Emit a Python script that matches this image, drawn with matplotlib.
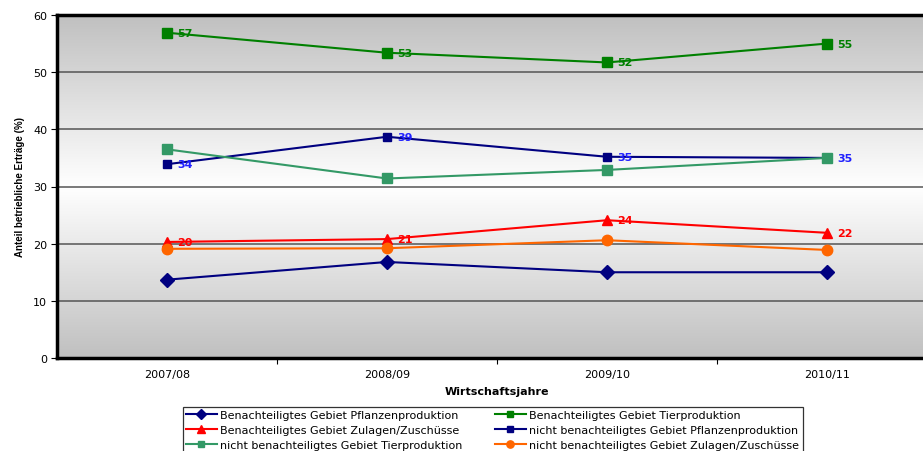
import numpy as np
import matplotlib
matplotlib.use("Agg")
import matplotlib.pyplot as plt
from matplotlib.colors import LinearSegmentedColormap

plt.rcParams['font.family'] = ['DejaVu Sans']

years = ["2007/08", "2008/09", "2009/10", "2010/11"]

ben_pflanzen = [13.7, 16.8, 15.0, 15.0]
ben_tier = [56.9, 53.4, 51.7, 55.0]
ben_zulagen = [20.3, 20.8, 24.1, 21.9]
nicht_pflanzen = [33.9, 38.7, 35.2, 35.0]
nicht_tier = [36.5, 31.4, 32.9, 35.0]
nicht_zulagen = [19.1, 19.2, 20.6, 18.9]

series = [
    ("Benachteiligtes Gebiet Pflanzenproduktion", ben_pflanzen, "#000080", "D", 7, None),
    ("Benachteiligtes Gebiet Tierproduktion", ben_tier, "#008000", "s", 7, "#008000"),
    ("Benachteiligtes Gebiet Zulagen/Zuschüsse", ben_zulagen, "#ff0000", "^", 7.5, "#ff0000"),
    ("nicht benachteiligtes Gebiet Pflanzenproduktion", nicht_pflanzen, "#000080", "s", 5.5, "#2020ff"),
    ("nicht benachteiligtes Gebiet Tierproduktion", nicht_tier, "#339966", "s", 7, None),
    ("nicht benachteiligtes Gebiet Zulagen/Zuschüsse", nicht_zulagen, "#ff6600", "o", 7.5, None),
]

fig = plt.figure(figsize=(9.23, 4.52), dpi=100)
ax = fig.add_axes([57 / 923, 1 - 359 / 452, 880 / 923, 343 / 452])

# vertical gray-white-gray gradient behind the plot
cmap = LinearSegmentedColormap.from_list("bg", ["#c0c0c0", "#ffffff", "#c0c0c0"])
grad = np.linspace(0, 1, 256).reshape(-1, 1)
ax.imshow(grad, cmap=cmap, aspect="auto", extent=[0, 1, 0, 1],
          transform=ax.transAxes, zorder=0)

x = np.arange(len(years))
for name, vals, color, marker, ms, label_color in series:
    ax.plot(x, vals, color=color, marker=marker, markersize=ms, linewidth=1.5,
            label=name, zorder=3)
    if label_color:
        for xi, v in zip(x, vals):
            ax.annotate(f"{v:.0f}", (xi, v), xytext=(7.5, 0), textcoords="offset points",
                        ha="left", va="center", color=label_color, fontsize=8,
                        fontweight="bold", zorder=4)

ax.set_xlim(-0.5, 3.5)
ax.set_ylim(0, 60)
ax.set_yticks(range(0, 61, 10))
ax.yaxis.grid(True, color="#555555", linewidth=1.1, zorder=1)
ax.set_axisbelow(True)

ax.set_xticks(x)
ax.set_xticklabels(years, fontsize=8)
ax.set_xticks(np.arange(0.5, 3.5, 1), minor=True)
ax.tick_params(axis="x", which="major", length=0, pad=8)
ax.tick_params(axis="x", which="minor", length=4, direction="out", width=0.8)
ax.tick_params(axis="y", labelsize=8, length=4, width=0.8, pad=3)

for side in ["left", "top", "bottom"]:
    ax.spines[side].set_linewidth(2.5)
    ax.spines[side].set_color("black")
ax.spines["right"].set_visible(False)

ax.set_xlabel("Wirtschaftsjahre", fontsize=8, fontweight="bold", labelpad=5)
ax.set_ylabel("Anteil betriebliche Erträge (%)", fontsize=7, fontweight="bold",
              labelpad=6, family=["Liberation Sans Narrow", "Liberation Sans"])

handles, labels = ax.get_legend_handles_labels()
order = [0, 2, 4, 1, 3, 5]
leg = fig.legend([handles[i] for i in order], [labels[i] for i in order],
                 loc="upper left", bbox_to_anchor=(177 / 923, 1 - 402 / 452),
                 ncol=2, fontsize=8, frameon=True, fancybox=False,
                 edgecolor="black", handlelength=2.8, handletextpad=0.3,
                 columnspacing=2.9, labelspacing=0.45, borderpad=0.3,
                 markerscale=0.7)
leg.get_frame().set_linewidth(0.9)

fig.savefig("out.png", dpi=100)
